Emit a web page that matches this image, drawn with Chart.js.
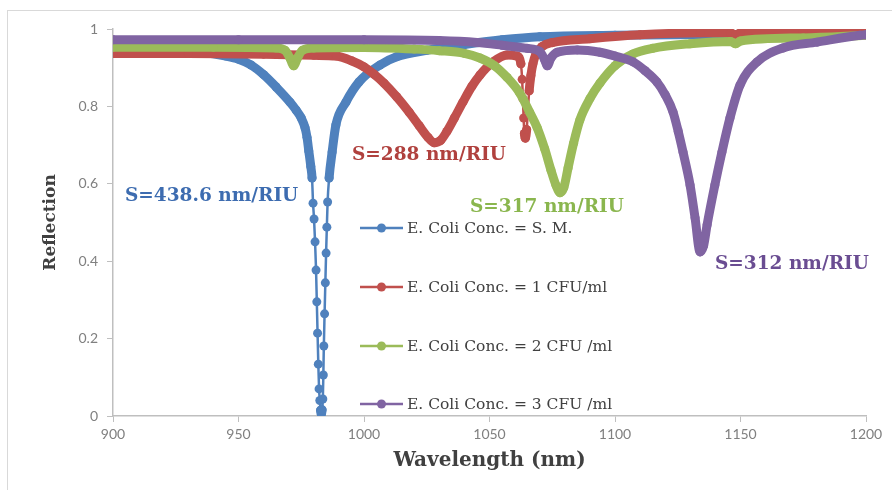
<!DOCTYPE html>
<html><head><meta charset="utf-8">
<script src="https://cdn.jsdelivr.net/npm/chart.js@4.4.1/dist/chart.umd.min.js"></script>
<style>
html,body{margin:0;padding:0;background:#fff;}
#wrap{position:relative;width:892px;height:490px;overflow:hidden;background:#fff;}
#frame{position:absolute;left:7px;top:10px;width:900px;height:500px;border:1px solid #d9d9d9;box-sizing:border-box;}
canvas{position:absolute;left:0;top:0;}
</style></head><body>
<div id="wrap"><div id="frame"></div><canvas id="c" width="892" height="490"></canvas></div>
<script>
// ---- data ----
const seriesLabels = [
  "E. Coli Conc. = S. M.",
  "E. Coli Conc. = 1 CFU/ml",
  "E. Coli Conc. = 2 CFU /ml",
  "E. Coli Conc. = 3 CFU /ml"
];
const sensitivityLabels = ["S=438.6 nm/RIU", "S=288 nm/RIU", "S=317 nm/RIU", "S=312 nm/RIU"];

const wlSM = [900, 920, 935, 945, 950, 955, 960, 965, 970.5, 973, 975, 976.5, 977.3, 978, 978.8, 979.3, 979.7, 980.1, 980.5, 980.9, 981.2, 981.5, 981.8, 982.1, 982.4, 982.7, 983.0, 983.3, 983.6, 983.8, 984.0, 984.3, 984.6, 984.9, 985.2, 985.5, 986.1, 987.3, 988.8, 992.8, 998, 1006.4, 1013, 1025, 1040, 1055, 1070, 1100, 1150, 1200];
const reflSM = [0.945, 0.945, 0.94, 0.93, 0.922, 0.907, 0.882, 0.85, 0.811, 0.79, 0.77, 0.745, 0.72, 0.685, 0.645, 0.615, 0.55, 0.509, 0.45, 0.377, 0.295, 0.214, 0.134, 0.07, 0.04, 0.015, 0.005, 0.016, 0.044, 0.106, 0.181, 0.264, 0.344, 0.421, 0.488, 0.553, 0.615, 0.682, 0.752, 0.811, 0.863, 0.907, 0.928, 0.945, 0.96, 0.972, 0.98, 0.984, 0.986, 0.988];

const wl1 = [900, 930, 960, 980, 989, 995, 1000, 1004, 1008, 1013, 1018, 1022, 1025.5, 1028, 1030.5, 1033, 1036, 1039.4, 1043, 1046.2, 1051.4, 1057, 1061, 1062.5, 1063, 1063.3, 1063.6, 1063.9, 1064.3, 1064.8, 1065.3, 1065.8, 1066.5, 1067.3, 1068.5, 1071, 1075, 1090, 1110, 1134, 1146, 1148, 1150, 1175, 1200];
const refl1 = [0.937, 0.937, 0.935, 0.932, 0.93, 0.918, 0.902, 0.883, 0.86, 0.825, 0.785, 0.75, 0.72, 0.706, 0.712, 0.735, 0.77, 0.811, 0.852, 0.881, 0.915, 0.933, 0.93, 0.91, 0.87, 0.82, 0.77, 0.73, 0.718, 0.74, 0.79, 0.84, 0.88, 0.91, 0.935, 0.955, 0.965, 0.975, 0.985, 0.99, 0.99, 0.984, 0.99, 0.993, 0.995];

const wl2 = [900, 940, 965, 968.5, 970.5, 972, 973.5, 975.5, 980, 1000, 1020, 1030, 1040, 1046.2, 1052, 1057, 1062, 1066, 1069, 1072, 1074.5, 1076.5, 1078.1, 1079.6, 1081.3, 1083.5, 1086, 1090, 1094, 1100, 1107, 1115, 1130, 1146, 1148, 1150, 1175, 1200];
const refl2 = [0.953, 0.953, 0.951, 0.945, 0.925, 0.905, 0.925, 0.945, 0.951, 0.952, 0.948, 0.944, 0.937, 0.925, 0.905, 0.875, 0.835, 0.785, 0.745, 0.69, 0.635, 0.596, 0.577, 0.59, 0.641, 0.705, 0.765, 0.82, 0.86, 0.905, 0.935, 0.95, 0.962, 0.968, 0.962, 0.969, 0.977, 0.984];

const wl3 = [900, 950, 1000, 1030, 1045, 1055, 1065, 1070, 1072, 1073, 1074.5, 1077, 1085, 1094, 1100, 1107.2, 1112, 1116.7, 1120, 1123.1, 1125.2, 1127.1, 1129.9, 1131.9, 1133.9, 1135.3, 1136.7, 1139.8, 1142.6, 1145.8, 1149.8, 1156.6, 1166.9, 1180.5, 1197.6, 1200];
const refl3 = [0.972, 0.972, 0.972, 0.97, 0.965, 0.958, 0.95, 0.942, 0.92, 0.905, 0.925, 0.94, 0.946, 0.94, 0.93, 0.915, 0.892, 0.863, 0.83, 0.786, 0.735, 0.682, 0.597, 0.512, 0.424, 0.44, 0.494, 0.597, 0.682, 0.77, 0.855, 0.915, 0.951, 0.966, 0.984, 0.985];

const xTickRange = [900, 1200, 50];
const yTickRange = [0, 1, 0.2];

// ---- styles ----
const colors = ["#4F81BD", "#C0504D", "#9BBB59", "#8064A2"];
const textColors = ["#3D6CB0", "#B0413E", "#8AB64E", "#6A4D92"];
const serif = "'DejaVu Serif', 'Liberation Serif', serif";

const wls = [wlSM, wl1, wl2, wl3];
const refls = [reflSM, refl1, refl2, refl3];

function steep(ctx) {
  const a = ctx.p0.parsed, b = ctx.p1.parsed;
  return Math.abs((b.y - a.y) / (b.x - a.x)) > 0.08;
}

const datasets = seriesLabels.map((lab, i) => ({
  label: lab,
  data: wls[i].map((x, k) => ({x: x, y: refls[i][k]})),
  borderColor: colors[i],
  backgroundColor: colors[i],
  pointBackgroundColor: colors[i],
  pointBorderWidth: 0,
  pointRadius: 4.5,
  borderWidth: 9,
  borderCapStyle: 'round',
  borderJoinStyle: 'round',
  cubicInterpolationMode: 'monotone',
  order: 4 - i,
  segment: { borderWidth: ctx => steep(ctx) ? 2.5 : 9 }
}));

const overlay = {
  id: 'overlay',
  afterDatasetsDraw(chart) {
    const c = chart.ctx;
    c.save();
    const legY = [228, 287, 346, 404];
    seriesLabels.forEach((lab, i) => {
      c.strokeStyle = colors[i];
      c.lineWidth = 2.5;
      c.beginPath(); c.moveTo(360, legY[i]); c.lineTo(403, legY[i]); c.stroke();
      c.fillStyle = colors[i];
      c.beginPath(); c.arc(381.5, legY[i], 4.5, 0, Math.PI * 2); c.fill();
      c.fillStyle = "#404040";
      c.font = "15.5px " + serif;
      c.textAlign = "left"; c.textBaseline = "middle";
      c.fillText(lab, 407, legY[i] + 1);
    });
    const pos = [[125, 196], [352, 155], [470, 207], [715, 264]];
    sensitivityLabels.forEach((t, i) => {
      c.fillStyle = textColors[i];
      c.font = "bold 18.5px " + serif;
      c.textAlign = "left"; c.textBaseline = "middle";
      c.fillText(t, pos[i][0], pos[i][1]);
    });
    c.restore();
  }
};

new Chart(document.getElementById('c'), {
  type: 'line',
  data: { datasets },
  plugins: [overlay],
  options: {
    responsive: false,
    animation: false,
    devicePixelRatio: 1,
    layout: { padding: { left: 0, right: 26, top: 29, bottom: 0 } },
    plugins: { legend: { display: false }, tooltip: { enabled: false } },
    scales: {
      x: {
        type: 'linear',
        min: xTickRange[0], max: xTickRange[1],
        ticks: { stepSize: xTickRange[2], color: '#808080', font: { family: 'Lato', size: 14 }, padding: 4, maxRotation: 0,
                 callback: v => String(v) },
        grid: { drawOnChartArea: false, color: '#BFBFBF', tickLength: 6 },
        border: { color: '#BFBFBF', width: 1.5 },
        title: { display: true, text: 'Wavelength (nm)', color: '#404040', font: { family: serif, size: 20, weight: 'bold' }, padding: { top: 0, bottom: 17 } },
        afterFit: s => { s.height = 74; }
      },
      y: {
        min: yTickRange[0], max: yTickRange[1],
        ticks: { stepSize: yTickRange[2], color: '#808080', font: { family: 'Lato', size: 14 }, padding: 9,
                 callback: v => String(Math.round(v * 10) / 10) },
        grid: { drawOnChartArea: false, color: '#BFBFBF', tickLength: 6 },
        border: { color: '#BFBFBF', width: 1.5 },
        title: { display: true, text: 'Reflection', color: '#404040', font: { family: serif, size: 17, weight: 'bold' }, padding: { top: 40, bottom: 0 } },
        afterFit: s => { s.width = 113; }
      }
    }
  }
});
</script>
</body></html>
